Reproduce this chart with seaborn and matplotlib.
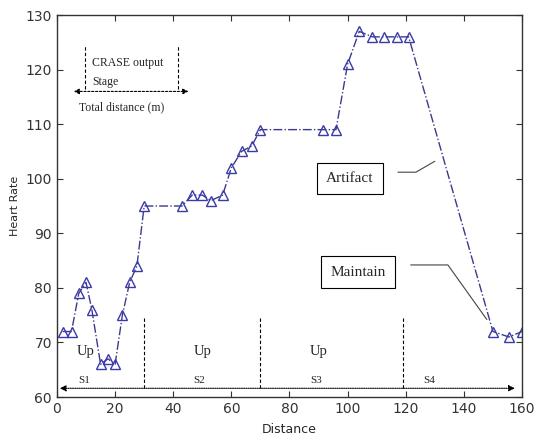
import numpy as np
import pandas as pd
import matplotlib.pyplot as plt
import seaborn as sns

sns.set_style('ticks')

# heart rate
distance = [2, 5, 7.5, 10, 12, 15, 17.5, 20, 22.5, 25, 27.5, 30,
            43, 46.5, 50, 53, 57, 60, 63.5, 67, 70,
            91.5, 96, 100, 104, 108.5, 112.5, 117, 121,
            150, 155.5, 160]
heart_rate = [72, 72, 79, 81, 76, 66, 67, 66, 75, 81, 84, 95,
              95, 97, 97, 96, 97, 102, 105, 106, 109,
              109, 109, 121, 127, 126, 126, 126, 126,
              72, 71, 72]

stage_bounds = [30, 70, 119]
stage_names = ['S1', 'S2', 'S3', 'S4']
stage_name_x = [9.5, 49, 89, 128]
up_x = [10, 50, 90]

df = pd.DataFrame({'Distance': distance, 'Heart Rate': heart_rate})

fig, ax = plt.subplots(figsize=(5.35, 4.42), dpi=100)
fig.subplots_adjust(left=0.1065, right=0.9757, bottom=0.1018, top=0.966)

sns.lineplot(data=df, x='Distance', y='Heart Rate', ax=ax, color='#3a3a8c',
             linestyle='-.', linewidth=1.0, marker='^', markersize=7.5,
             markerfacecolor='none', markeredgecolor='#3a3aa8', markeredgewidth=1.0)

ax.set_xlim(0, 160)
ax.set_ylim(60, 130)
ax.set_xticks(range(0, 161, 20))
ax.set_yticks(range(60, 131, 10))
ax.tick_params(direction='in', top=True, right=True, labelsize=10, colors='#333333',
               length=4)
for s in ax.spines.values():
    s.set_color('#333333')
    s.set_linewidth(1.0)
ax.set_xlabel('Distance', fontsize=9, labelpad=5)
ax.set_ylabel('Heart Rate', fontsize=8)

serif = 'Liberation Serif'

# key in upper-left
ax.plot([9.6, 9.6], [116.5, 124.5], ls=(0, (3, 2)), color='k', lw=0.8)
ax.plot([41.6, 41.6], [116.5, 124.5], ls=(0, (3, 2)), color='k', lw=0.8)
ax.annotate('', xy=(4.8, 116), xytext=(46.2, 116),
            arrowprops=dict(arrowstyle='<|-|>', ls=(0, (2, 1.5)), color='k', lw=0.8,
                            mutation_scale=8))
ax.text(12, 121.3, 'CRASE output', family=serif, fontsize=8.5, va='center')
ax.text(12, 117.8, 'Stage', family=serif, fontsize=8.5, va='center')
ax.text(7.5, 113, 'Total distance (m)', family=serif, fontsize=8.5, va='center')

# stages along the bottom
for b in stage_bounds:
    ax.plot([b, b], [61.6, 74.5], ls=(0, (3, 2)), color='k', lw=0.8)
ax.annotate('', xy=(0, 61.6), xytext=(158.5, 61.6),
            arrowprops=dict(arrowstyle='<|-|>', ls=(0, (1, 1)), color='k', lw=0.8,
                            mutation_scale=9))
for nx, nm in zip(stage_name_x, stage_names):
    ax.text(nx, 63, nm, family=serif, fontsize=8, ha='center', va='center')
for ux in up_x:
    ax.text(ux, 68.3, 'Up', family=serif, fontsize=10.5, ha='center', va='center')

# callouts
ax.text(100.8, 100, 'Artifact', family=serif, fontsize=11, ha='center', va='center',
        bbox=dict(boxstyle='square,pad=0.6', fc='white', ec='k', lw=0.8))
ax.plot([117.3, 123.5, 130], [101.2, 101.2, 103.2], color='#444444', lw=0.8)
ax.text(103.5, 82.9, 'Maintain', family=serif, fontsize=11, ha='center', va='center',
        bbox=dict(boxstyle='square,pad=0.6', fc='white', ec='k', lw=0.8))
ax.plot([121.7, 134.5, 147.9], [84.2, 84.2, 74.2], color='#444444', lw=0.8)

fig.savefig('out.png', dpi=100)
